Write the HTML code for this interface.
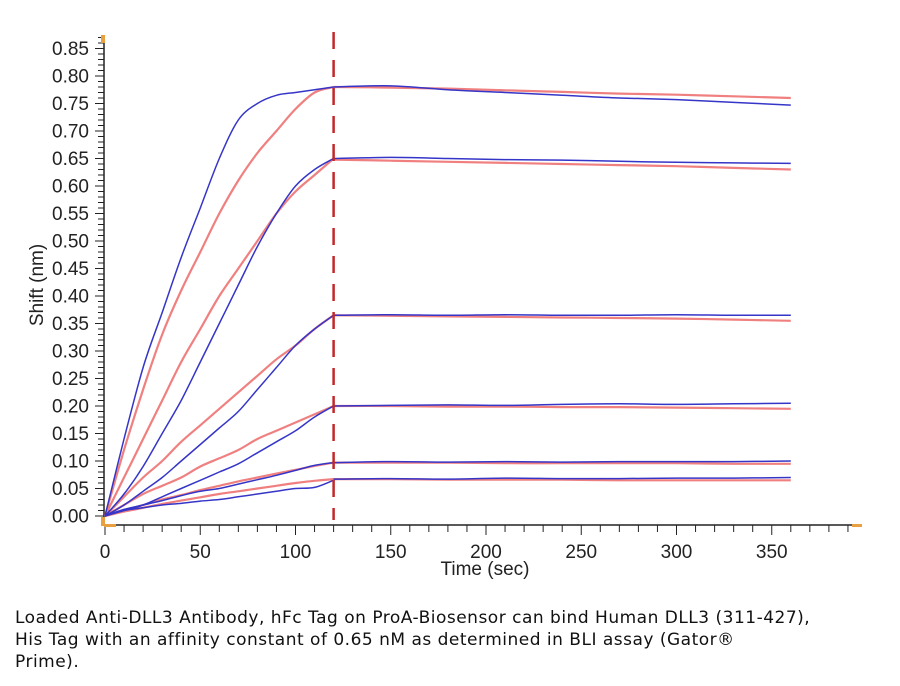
<!DOCTYPE html>
<html><head><meta charset="utf-8"><style>
body{margin:0;background:#fff;width:900px;height:686px;overflow:hidden;font-family:"Liberation Sans",sans-serif}
#cap{position:absolute;left:15px;top:607px;font-size:17px;line-height:22px;color:#111;font-family:"DejaVu Sans","Liberation Sans",sans-serif;letter-spacing:0.5px}
</style></head><body>
<svg id="chart" width="900" height="600" style="position:absolute;left:0;top:0" font-family="Liberation Sans, sans-serif"></svg>
<div id="cap">Loaded Anti-DLL3 Antibody, hFc Tag on ProA-Biosensor can bind Human DLL3 (311-427),<br>His Tag with an affinity constant of 0.65 nM as determined in BLI assay (Gator®<br>Prime).</div>
<script>
const assocTimes=[0,10,20,30,40,50,60,70,80,90,100,110,120];
const dissTimes=[120,150,180,210,240,270,300,330,360];
const blueAssoc=[
[0,0.14,0.27,0.37,0.47,0.56,0.65,0.72,0.75,0.765,0.77,0.775,0.78],
[0,0.04,0.09,0.15,0.21,0.28,0.35,0.42,0.49,0.55,0.60,0.63,0.65],
[0,0.02,0.045,0.07,0.10,0.13,0.16,0.19,0.23,0.27,0.31,0.34,0.365],
[0,0.01,0.02,0.035,0.05,0.065,0.08,0.095,0.115,0.135,0.155,0.18,0.20],
[0,0.012,0.02,0.028,0.037,0.045,0.05,0.058,0.066,0.074,0.083,0.092,0.097],
[0,0.01,0.015,0.02,0.023,0.027,0.03,0.035,0.04,0.045,0.05,0.052,0.065]];
const redAssoc=[
[0,0.12,0.23,0.33,0.41,0.48,0.55,0.61,0.66,0.70,0.74,0.77,0.78],
[0,0.07,0.14,0.21,0.28,0.34,0.40,0.45,0.50,0.55,0.59,0.62,0.65],
[0,0.035,0.07,0.10,0.135,0.165,0.195,0.225,0.255,0.285,0.31,0.34,0.365],
[0,0.02,0.04,0.055,0.07,0.09,0.105,0.12,0.14,0.155,0.17,0.185,0.20],
[0,0.01,0.02,0.03,0.038,0.047,0.055,0.063,0.07,0.077,0.084,0.091,0.097],
[0,0.008,0.015,0.022,0.028,0.034,0.04,0.045,0.05,0.055,0.06,0.064,0.067]];
const blueDiss=[
[0.78,0.782,0.775,0.77,0.765,0.76,0.757,0.752,0.747],
[0.65,0.652,0.65,0.648,0.647,0.645,0.643,0.642,0.641],
[0.365,0.366,0.365,0.366,0.365,0.365,0.366,0.365,0.365],
[0.20,0.201,0.202,0.201,0.203,0.204,0.203,0.204,0.205],
[0.097,0.099,0.098,0.099,0.098,0.099,0.099,0.099,0.100],
[0.067,0.068,0.067,0.069,0.068,0.068,0.069,0.069,0.070]];
const redDiss=[
[0.78,0.779,0.777,0.774,0.771,0.768,0.766,0.763,0.760],
[0.648,0.646,0.644,0.642,0.640,0.638,0.636,0.633,0.630],
[0.365,0.364,0.363,0.362,0.361,0.360,0.359,0.357,0.355],
[0.200,0.200,0.199,0.199,0.198,0.198,0.197,0.196,0.195],
[0.097,0.097,0.097,0.096,0.096,0.096,0.096,0.095,0.095],
[0.067,0.067,0.066,0.066,0.066,0.065,0.065,0.065,0.065]];
const yTicks=[0,0.05,0.1,0.15,0.2,0.25,0.3,0.35,0.4,0.45,0.5,0.55,0.6,0.65,0.7,0.75,0.8,0.85];
const xTicks=[0,50,100,150,200,250,300,350];
const cutTime=120;

const NS="http://www.w3.org/2000/svg";
const svg=document.getElementById('chart');
const X=t=>105+t*1.905;
const Y=v=>516-v*550;
function mk(tag,at,parent){const e=document.createElementNS(NS,tag);for(const k in at)e.setAttribute(k,at[k]);(parent||svg).appendChild(e);return e;}
function smooth(pts){let d='M'+pts[0][0]+','+pts[0][1];for(let i=0;i<pts.length-1;i++){const p0=pts[Math.max(i-1,0)],p1=pts[i],p2=pts[i+1],p3=pts[Math.min(i+2,pts.length-1)];
const c1=[p1[0]+(p2[0]-p0[0])/6,p1[1]+(p2[1]-p0[1])/6],c2=[p2[0]-(p3[0]-p1[0])/6,p2[1]-(p3[1]-p1[1])/6];
d+=` C${c1[0].toFixed(1)},${c1[1].toFixed(1)} ${c2[0].toFixed(1)},${c2[1].toFixed(1)} ${p2[0].toFixed(1)},${p2[1].toFixed(1)}`;}return d;}
let a=mk('line',{x1:104,y1:35,x2:104,y2:525,stroke:'#222','stroke-width':1.5});


a=mk('line',{x1:104,y1:525,x2:862,y2:525,stroke:'#222','stroke-width':1.5});


for(let v=0;v<=0.875;v+=0.01){const y=Y(v);const maj=Math.round(v*100)%5===0;mk('line',{x1:maj?95:98,y1:y,x2:104,y2:y,stroke:'#222','stroke-width':1});}
yTicks.forEach(v=>{const t=mk('text',{x:89,y:Y(v)+6.5,'text-anchor':'end','font-size':19,fill:'#222'});t.textContent=v.toFixed(2);

});
for(let t=0;t<=390;t+=10){const x=X(t);const maj=t%50===0;mk('line',{x1:x,y1:525,x2:x,y2:maj?535:532,stroke:'#222','stroke-width':1});}
xTicks.forEach(v=>{const t=mk('text',{x:X(v),y:558,'text-anchor':'middle','font-size':19,fill:'#222'});t.textContent=v;

});
mk('rect',{x:101,y:35,width:4,height:8,fill:'#e8a040'});
mk('rect',{x:101,y:517,width:4,height:9,fill:'#e8a040'});
mk('rect',{x:104,y:524,width:12,height:3,fill:'#e8a040'});
mk('rect',{x:852,y:524,width:10,height:3,fill:'#e8a040'});
let xt=mk('text',{x:485,y:575,'text-anchor':'middle','font-size':19,fill:'#222'});xt.textContent='Time (sec)';


let yt=mk('text',{x:0,y:0,'text-anchor':'middle','font-size':19,fill:'#222',transform:'translate(43,285) rotate(-90)'});yt.textContent='Shift (nm)';


for(let i=0;i<redAssoc.length;i++){
 const r1=mk('path',{d:smooth(assocTimes.map((t,j)=>[X(t),Y(redAssoc[i][j])])),fill:'none',stroke:'#f08080','stroke-width':2.2});
 
 
 const r2=mk('path',{d:smooth(dissTimes.map((t,j)=>[X(t),Y(redDiss[i][j])])),fill:'none',stroke:'#f08080','stroke-width':2.2});
 
 
}
for(let i=0;i<blueAssoc.length;i++){
 const b1=mk('path',{d:smooth(assocTimes.map((t,j)=>[X(t),Y(blueAssoc[i][j])])),fill:'none',stroke:'#3535c8','stroke-width':1.5});
 
 
 const b2=mk('path',{d:smooth(dissTimes.map((t,j)=>[X(t),Y(blueDiss[i][j])])),fill:'none',stroke:'#3535c8','stroke-width':1.5});
 
 
}
const dl=mk('line',{x1:X(cutTime),y1:32,x2:X(cutTime),y2:520,stroke:'#c0282a','stroke-width':2.5,'stroke-dasharray':'17,11'});


</script>
</body></html>
